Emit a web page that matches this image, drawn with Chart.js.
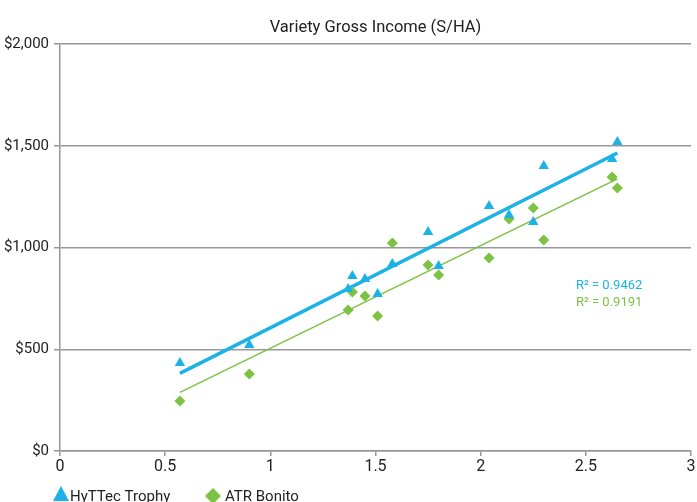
<!DOCTYPE html>
<html>
<head>
<meta charset="utf-8">
<script src="https://cdn.jsdelivr.net/npm/chart.js@4/dist/chart.umd.min.js"></script>
<style>
  html, body { margin: 0; padding: 0; background: #fff; }
  #wrap { width: 697px; height: 502px; }
</style>
</head>
<body>
<div id="wrap"><canvas id="grafico"></canvas></div>
<script>
// values
const yieldX = [0.57, 0.90, 1.37, 1.39, 1.45, 1.51, 1.58, 1.75, 1.80, 2.04, 2.135, 2.25, 2.30, 2.625, 2.65];
const hyttecIncome = [432, 521, 796, 860, 845, 771, 919, 1076, 909, 1204, 1160, 1125, 1400, 1435, 1518];
const atrIncome = [246, 378, 693, 781, 762, 663, 1022, 914, 865, 948, 1140, 1194, 1037, 1346, 1292];
const seriesNames = ['HyTTec Trophy', 'ATR Bonito'];
const r2Labels = ['R\u00B2 = 0.9462', 'R\u00B2 = 0.9191'];
const chartTitle = 'Variety Gross Income (S/HA)';
const yTicks = [0, 500, 1000, 1500, 2000];
const xTicks = [0, 0.5, 1, 1.5, 2, 2.5, 3];

const BLUE = '#1cb2e8';
const GREEN = '#7cc243';
const GRID = '#979797';
const FONT = "Roboto, 'Liberation Sans', sans-serif";

function pts(xs, ys) {
    return xs.map(function(x, i) { return { x: x, y: ys[i] }; });
}

// least squares trendline over the data range
function trend(xs, ys) {
    const n = xs.length;
    let sx = 0, sy = 0, sxx = 0, sxy = 0;
    for (let i = 0; i < n; i++) {
        sx += xs[i]; sy += ys[i]; sxx += xs[i] * xs[i]; sxy += xs[i] * ys[i];
    }
    const m = (n * sxy - sx * sy) / (n * sxx - sx * sx);
    const b = (sy - m * sx) / n;
    const x0 = Math.min.apply(null, xs), x1 = Math.max.apply(null, xs);
    return [{ x: x0, y: m * x0 + b }, { x: x1, y: m * x1 + b }];
}

const extras = {
    id: 'extras',
    afterDraw: function(chart) {
        const ctx = chart.ctx;
        const area = chart.chartArea;
        ctx.save();
        ctx.textBaseline = 'middle';

        // title, centred over the plot area
        ctx.font = '16.5px ' + FONT;
        ctx.fillStyle = '#222';
        ctx.textAlign = 'center';
        ctx.fillText(chartTitle, (area.left + area.right) / 2, 28);

        // R² labels
        ctx.textAlign = 'left';
        ctx.font = '13px ' + FONT;
        ctx.fillStyle = BLUE;
        ctx.fillText(r2Labels[0], 576, 286);
        ctx.fillStyle = GREEN;
        ctx.fillText(r2Labels[1], 576, 303);

        // legend at the bottom
        ctx.font = '15px ' + FONT;
        ctx.fillStyle = BLUE;
        ctx.beginPath();
        ctx.moveTo(61, 486);
        ctx.lineTo(69, 501);
        ctx.lineTo(53, 501);
        ctx.closePath();
        ctx.fill();
        ctx.fillStyle = '#222';
        ctx.fillText(seriesNames[0], 70, 497);

        ctx.fillStyle = GREEN;
        ctx.beginPath();
        ctx.moveTo(213, 488);
        ctx.lineTo(221, 496);
        ctx.lineTo(213, 504);
        ctx.lineTo(205, 496);
        ctx.closePath();
        ctx.fill();
        ctx.fillStyle = '#222';
        ctx.fillText(seriesNames[1], 225, 497);
        ctx.restore();
    }
};

const ctx = document.getElementById('grafico').getContext('2d');
new Chart(ctx, {
    type: 'scatter',
    data: {
        datasets: [
            {
                label: seriesNames[0] + ' trend',
                type: 'line',
                data: trend(yieldX, hyttecIncome),
                borderColor: BLUE,
                borderWidth: 3.5,
                pointRadius: 0,
                fill: false,
                order: 2
            },
            {
                label: seriesNames[1] + ' trend',
                type: 'line',
                data: trend(yieldX, atrIncome),
                borderColor: GREEN,
                borderWidth: 1.5,
                pointRadius: 0,
                fill: false,
                order: 2
            },
            {
                label: seriesNames[1],
                data: pts(yieldX, atrIncome),
                pointStyle: 'rectRot',
                pointRadius: 5.5,
                backgroundColor: GREEN,
                borderColor: GREEN,
                borderWidth: 0,
                order: 1
            },
            {
                label: seriesNames[0],
                data: pts(yieldX, hyttecIncome),
                pointStyle: 'triangle',
                pointRadius: 6,
                backgroundColor: BLUE,
                borderColor: BLUE,
                borderWidth: 0,
                order: 0
            }
        ]
    },
    options: {
        responsive: true,
        maintainAspectRatio: false,
        animation: false,
        layout: { padding: { left: 0, right: 6, top: 44, bottom: 0 } },
        plugins: {
            legend: { display: false },
            tooltip: { enabled: false },
            title: { display: false }
        },
        scales: {
            x: {
                type: 'linear',
                min: 0,
                max: 3,
                afterBuildTicks: function(scale) {
                    scale.ticks = xTicks.map(function(v) { return { value: v }; });
                },
                afterFit: function(scale) { scale.height = 51; },
                grid: { drawOnChartArea: false, drawTicks: true, tickLength: 5, color: GRID, lineWidth: 1.5 },
                border: { color: GRID, width: 1.5 },
                ticks: {
                    color: '#222',
                    padding: 1,
                    maxRotation: 0,
                    font: { family: FONT, size: 16 },
                    callback: function(v) { return String(v); }
                }
            },
            y: {
                min: 0,
                max: 2000,
                afterBuildTicks: function(scale) {
                    scale.ticks = yTicks.map(function(v) { return { value: v }; });
                },
                afterFit: function(scale) { scale.width = 60; },
                grid: { color: GRID, lineWidth: 1.5, tickLength: 6 },
                border: { color: GRID, width: 1.5 },
                ticks: {
                    color: '#222',
                    padding: 5,
                    font: { family: FONT, size: 15 },
                    callback: function(v) { return '$' + v.toLocaleString('en-US'); }
                }
            }
        }
    },
    plugins: [extras]
});
</script>
</body>
</html>
